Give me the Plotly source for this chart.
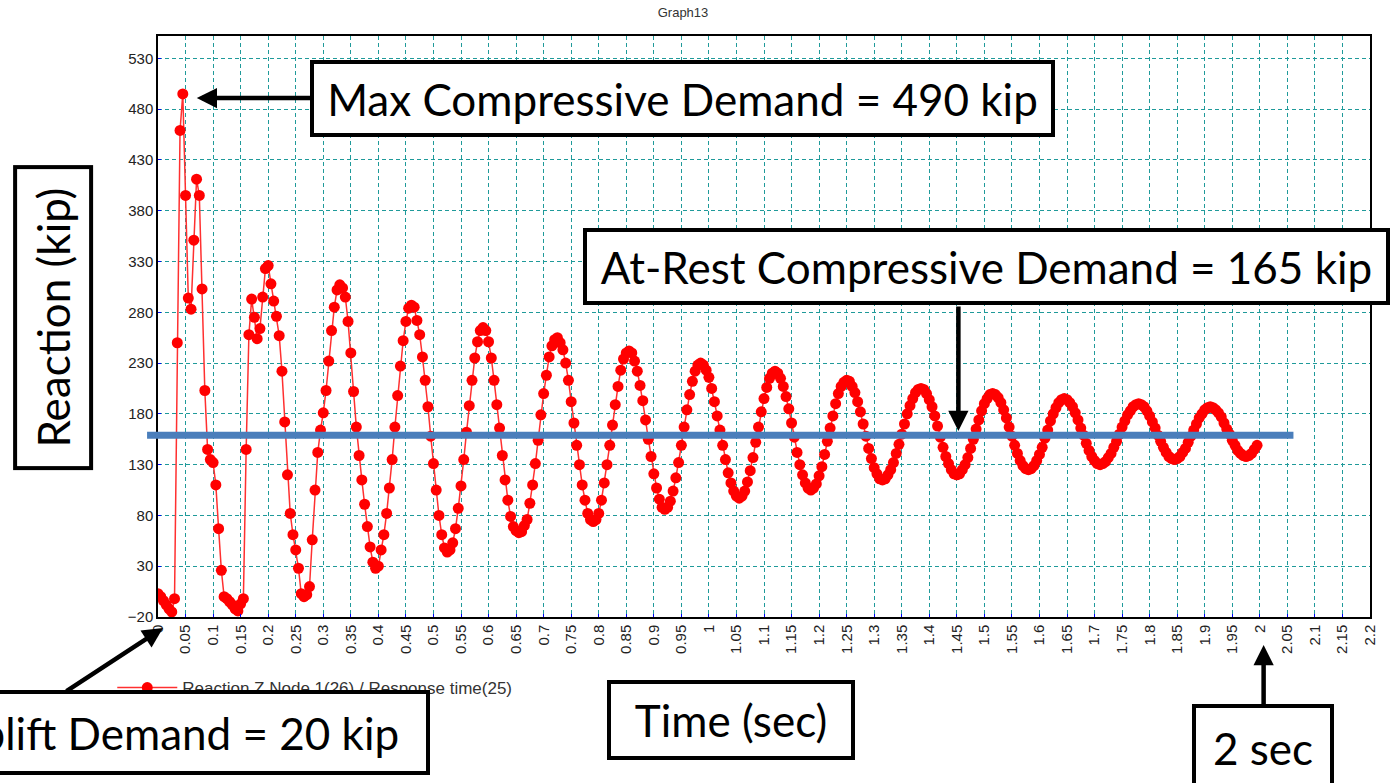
import plotly.graph_objects as go

# Graph13: reaction Z at node 1 (kip) sampled every dt seconds of response time
dt = 0.005
reaction = [
    3, 0, -4, -8, -12, -15, -2, 250, 459, 495, 395, 294, 283, 351, 411, 395, 303, 203, 145, 135,
    132, 110, 67, 26, 0, -2, -5, -8, -12, -14, -7, -2, 145, 258, 293, 275, 254, 264, 295, 323,
    326, 308, 291, 276, 257, 222, 172, 120, 82, 61, 46, 28, 3, 0, 2, 10, 56, 105, 142, 164,
    181, 203, 232, 262, 285, 302, 307, 304, 295, 271, 240, 202, 167, 139, 115, 91, 69, 49, 34, 28,
    30, 46, 61, 82, 107, 135, 167, 198, 227, 252, 271, 284, 287, 285, 272, 258, 236, 213, 187, 158,
    131, 105, 80, 61, 48, 44, 46, 53, 67, 87, 109, 135, 162, 188, 213, 235, 251, 262, 265, 262,
    251, 235, 213, 189, 166, 139, 115, 95, 79, 69, 65, 63, 64, 70, 76, 92, 110, 131, 154, 179,
    200, 218, 236, 247, 253, 255, 250, 243, 230, 213, 192, 171, 149, 130, 110, 95, 82, 76, 74, 76,
    82, 95, 112, 130, 149, 169, 189, 207, 223, 234, 240, 242, 240, 232, 222, 208, 193, 174, 155, 138,
    121, 107, 96, 88, 86, 88, 94, 104, 117, 132, 149, 167, 184, 199, 212, 222, 228, 230, 228, 223,
    216, 205, 192, 178, 164, 149, 135, 122, 112, 104, 99, 97, 99, 104, 113, 124, 137, 152, 167, 182,
    195, 206, 215, 220, 222, 220, 215, 207, 197, 185, 171, 157, 142, 130, 120, 112, 107, 105, 107, 111,
    119, 128, 140, 153, 166, 178, 190, 200, 207, 211, 213, 212, 207, 201, 192, 182, 170, 158, 146, 136,
    127, 121, 116, 115, 116, 120, 125, 132, 141, 150, 160, 170, 180, 188, 195, 201, 204, 205, 204, 200,
    194, 187, 178, 168, 157, 147, 138, 131, 125, 121, 120, 121, 125, 130, 137, 146, 155, 165, 174, 183,
    190, 195, 199, 200, 199, 196, 191, 184, 176, 167, 158, 149, 141, 134, 129, 126, 125, 126, 129, 134,
    140, 147, 156, 164, 173, 180, 186, 191, 194, 195, 194, 191, 187, 181, 174, 166, 159, 151, 144, 138,
    134, 131, 130, 131, 133, 137, 141, 147, 153, 160, 167, 173, 179, 183, 187, 189, 190, 189, 187, 183,
    178, 172, 166, 159, 153, 147, 142, 138, 136, 135, 136, 138, 142, 146, 152, 158, 164, 170, 176, 180,
    184, 186, 187, 186, 184, 181, 177, 171, 165, 160, 154, 149, 144, 141, 139, 138, 139, 141, 145, 149,
]
at_rest_level = 159  # blue reference line (kip)

x_range = [0, 2.2]
y_range = [-20, 552]
x_dtick = 0.05
y_tick0, y_dtick = -20, 50

W, H = 1390, 783
ML, MR, MT, MB = 158, 13, 36, 166
pw, ph = W - ML - MR, H - MT - MB


def px(x):  # pixel -> paper x
    return (x - ML) / pw


def py(y):  # pixel -> paper y
    return (H - MB - y) / ph


box_font = dict(family="Lato, Liberation Sans, sans-serif", size=44, color="black")

fig = go.Figure()
fig.add_trace(go.Scatter(
    x0=0, dx=dt, y=reaction, mode="lines+markers",
    name="Reaction Z Node 1(26) / Response time(25)",
    line=dict(color="#ff3030", width=1.5),
    marker=dict(color="red", size=11),
))

fig.add_shape(type="line", xref="paper", yref="y",
              x0=px(147), x1=px(1300), y0=at_rest_level, y1=at_rest_level,
              line=dict(color="#4a7ebb", width=7))


def box(text, cx, cy, w, h, angle=0):
    fig.add_annotation(xref="paper", yref="paper", x=px(cx), y=py(cy),
                       xanchor="center", yanchor="middle", text=text, showarrow=False,
                       font=box_font, bgcolor="white", bordercolor="black",
                       borderwidth=4, borderpad=0, width=w, height=h,
                       align="center", valign="middle", textangle=angle)


def arrow(hx, hy, tx, ty):
    fig.add_annotation(xref="paper", yref="paper", x=px(hx), y=py(hy),
                       ax=tx - hx, ay=ty - hy, text="", showarrow=True,
                       arrowhead=2, arrowsize=0.9, arrowwidth=4.5, arrowcolor="black")


arrow(197, 98, 312, 98)
arrow(963, 431, 963, 305)
arrow(163, 628, 65, 692)
arrow(1270, 645, 1270, 706)

box("Max Compressive Demand = 490 kip", 685.5, 98.5, 737, 69)
box("At-Rest Compressive Demand = 165 kip", 991.5, 266.5, 799, 69)
box("Reaction (kip)", 52, 317.5, 297, 72, angle=-90)
box("Time (sec)", 734, 720, 240, 72)
box("Uplift Demand = 20 kip", 174, 732.5, 504, 77)
box("2 sec", 1269, 748, 134, 80)

axis_common = dict(showline=True, linecolor="black", linewidth=1.5, mirror=True,
                   showgrid=True, gridcolor="#1f9a9a", gridwidth=1, griddash="4px,3px",
                   zeroline=False, ticks="inside", ticklen=3, tickcolor="blue",
                   tickfont=dict(family="Liberation Sans, Arial, sans-serif", size=15, color="#222"))

fig.update_xaxes(range=x_range, tick0=0, dtick=x_dtick, tickangle=-90, **axis_common)
fig.update_yaxes(range=y_range, tick0=y_tick0, dtick=y_dtick, **axis_common)

fig.update_layout(
    width=W, height=H, margin=dict(l=ML, r=MR, t=MT, b=MB),
    paper_bgcolor="white", plot_bgcolor="white",
    title=dict(text="Graph13", x=px(757), xanchor="center", yref="container",
               y=1 - 12 / H, yanchor="middle",
               font=dict(family="Liberation Sans, Arial, sans-serif", size=13, color="#333")),
    showlegend=True,
    legend=dict(x=px(112), y=py(688), xanchor="left", yanchor="middle", itemwidth=60,
                bgcolor="rgba(0,0,0,0)",
                font=dict(family="Liberation Sans, Arial, sans-serif", size=17, color="#333")),
)

fig.write_html("out.html", config={"displayModeBar": False},
               post_script="document.body.style.margin='0';")
